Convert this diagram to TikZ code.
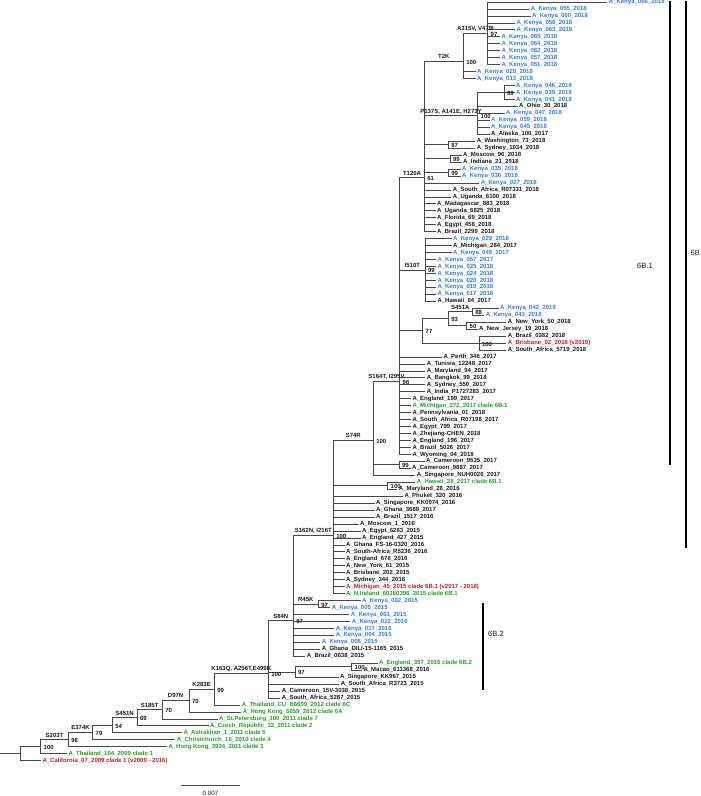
\documentclass[tikz,border=0pt]{standalone}
\usepackage{fontspec}
\setmainfont{Liberation Sans}
\usetikzlibrary{calc}
\definecolor{kenyablue}{RGB}{52,124,222}
\definecolor{cladegreen}{RGB}{38,158,38}
\definecolor{vaccred}{RGB}{185,32,38}
\definecolor{tipblack}{RGB}{25,25,25}

\begin{document}
\begin{tikzpicture}[x=1pt, y=-6.96pt,
    br/.style={draw=black!72, line width=0.75pt},
    tip/.style={font=\fontsize{6}{7}\selectfont\bfseries, anchor=west, inner sep=1.5pt, text height=4.4pt, text depth=1.2pt},
    boot/.style={font=\fontsize{6}{7}\selectfont\bfseries, text=tipblack, anchor=west, inner sep=1pt, xshift=1.8pt, yshift=-0.8pt, text height=4.4pt, text depth=0pt},
    mut/.style={font=\fontsize{6}{7}\selectfont\bfseries, text=tipblack, anchor=south, inner sep=1.2pt, text height=4.4pt, text depth=1.2pt},
    bar/.style={draw=black, line width=1.1pt},
    clade/.style={font=\fontsize{7.6}{9}\selectfont, text=tipblack, inner sep=0pt}]
    \useasboundingbox (0,-0.2874) rectangle (700,114.08);

    % internal nodes (x in px, y in tip rows)
    \coordinate (stub)  at (0,     107.99);
    \coordinate (root)  at (20.5,  107.99);
    \coordinate (b100)  at (40.7,  106.99);
    \coordinate (s203t) at (68.3,  105.98);
    \coordinate (e374k) at (92.7,  104.96);
    \coordinate (b54)   at (112.3, 103.92);
    \coordinate (s451n) at (137,   102.84);
    \coordinate (s185t) at (162.3, 101.68);
    \coordinate (d97n)  at (189,   100.36);
    \coordinate (k283e) at (214.3, 98.72);
    \coordinate (k163q) at (268.3, 96.43);
    \coordinate (s84n)  at (293.3, 88.90);
    \coordinate (r45k)  at (318.3, 86.5);
    \coordinate (b97b)  at (295,   96.25);
    \coordinate (b100c) at (351.7, 95.5);
    \coordinate (s162n) at (333.3, 76.62);
    \coordinate (s74r)  at (373.3, 63);
    \coordinate (b100d) at (387.7, 69.5);
    \coordinate (b99e)  at (399,   66.5);
    \coordinate (s164t) at (399.7, 54.5);
    \coordinate (b77)   at (422.7, 47.25);
    \coordinate (b93)   at (448.3, 45.5);
    \coordinate (s451a) at (472.3, 44.5);
    \coordinate (b50)   at (466.7, 46.5);
    \coordinate (b100f) at (479,   49);
    \coordinate (i510t) at (425,   38.5);
    \coordinate (t120a) at (424.3, 25.26);
    \coordinate (t2k)   at (463.3, 8.5);
    \coordinate (a315v) at (487.7, 4.5);
    \coordinate (p137s) at (477.7, 16.33);
    \coordinate (b99i)  at (504,   13);
    \coordinate (b87)   at (448.3, 20.5);
    \coordinate (b99g)  at (450,   22.5);
    \coordinate (b99h)  at (448.3, 24.5);

    % tips
    \foreach \i/\xe/\col/\lbl in {
        0/607.2/kenyablue/A\_Kenya\_066\_2018,
        1/529.2/kenyablue/A\_Kenya\_055\_2018,
        2/530.5/kenyablue/A\_Kenya\_060\_2018,
        3/514.8/kenyablue/A\_Kenya\_056\_2018,
        4/514.8/kenyablue/A\_Kenya\_063\_2018,
        5/499.8/kenyablue/A\_Kenya\_065\_2018,
        6/499.8/kenyablue/A\_Kenya\_064\_2018,
        7/499.8/kenyablue/A\_Kenya\_062\_2018,
        8/499.8/kenyablue/A\_Kenya\_057\_2018,
        9/499.8/kenyablue/A\_Kenya\_051\_2018,
        10/475.5/kenyablue/A\_Kenya\_028\_2018,
        11/475.5/kenyablue/A\_Kenya\_013\_2018,
        12/514.5/kenyablue/A\_Kenya\_046\_2018,
        13/514.5/kenyablue/A\_Kenya\_039\_2018,
        14/514.5/kenyablue/A\_Kenya\_041\_2018,
        15/517.5/tipblack/A\_Ohio\_30\_2018,
        16/504.5/kenyablue/A\_Kenya\_047\_2018,
        17/489.5/kenyablue/A\_Kenya\_059\_2018,
        18/489.5/kenyablue/A\_Kenya\_045\_2018,
        19/489.5/tipblack/A\_Alaska\_100\_2017,
        20/475.2/tipblack/A\_Washington\_73\_2018,
        21/475.2/tipblack/A\_Sydney\_1034\_2018,
        22/461.5/tipblack/A\_Moscow\_96\_2018,
        23/461.5/tipblack/A\_Indiana\_21\_2018,
        24/460.5/kenyablue/A\_Kenya\_035\_2018,
        25/460.5/kenyablue/A\_Kenya\_036\_2018,
        26/479.2/kenyablue/A\_Kenya\_027\_2018,
        27/451.2/tipblack/A\_South\_Africa\_R07331\_2018,
        28/451.2/tipblack/A\_Uganda\_6100\_2018,
        29/435.5/tipblack/A\_Madagascar\_883\_2018,
        30/435.5/tipblack/A\_Uganda\_6825\_2018,
        31/435.5/tipblack/A\_Florida\_69\_2018,
        32/435.5/tipblack/A\_Egypt\_458\_2018,
        33/435.5/tipblack/A\_Brazil\_2299\_2018,
        34/451.5/kenyablue/A\_Kenya\_029\_2018,
        35/451.5/tipblack/A\_Michigan\_284\_2017,
        36/451.5/kenyablue/A\_Kenya\_049\_2017,
        37/435.8/kenyablue/A\_Kenya\_057\_2017,
        38/435.8/kenyablue/A\_Kenya\_025\_2018,
        39/435.8/kenyablue/A\_Kenya\_024\_2018,
        40/435.8/kenyablue/A\_Kenya\_020\_2018,
        41/435.8/kenyablue/A\_Kenya\_019\_2018,
        42/435.8/kenyablue/A\_Kenya\_017\_2018,
        43/435.8/tipblack/A\_Hawaii\_64\_2017,
        44/498.5/kenyablue/A\_Kenya\_042\_2018,
        45/484.2/kenyablue/A\_Kenya\_043\_2018,
        46/506.2/tipblack/A\_New\_York\_50\_2018,
        47/477.5/tipblack/A\_New\_Jersey\_19\_2018,
        48/506.2/tipblack/A\_Brazil\_0382\_2018,
        49/506.2/vaccred/A\_Brisbane\_02\_2018 (v2019),
        50/506.2/tipblack/A\_South\_Africa\_5719\_2018,
        51/441.8/tipblack/A\_Perth\_346\_2017,
        52/425.2/tipblack/A\_Tunisia\_12248\_2017,
        53/425.2/tipblack/A\_Maryland\_94\_2017,
        54/425.2/tipblack/A\_Bangkok\_99\_2018,
        55/425.2/tipblack/A\_Sydney\_550\_2017,
        56/425.2/tipblack/A\_India\_P1727283\_2017,
        57/410.8/tipblack/A\_England\_199\_2017,
        58/410.8/cladegreen/A\_Michigan\_272\_2017 clade 6B.1,
        59/410.8/tipblack/A\_Pennsylvania\_01\_2018,
        60/410.8/tipblack/A\_South\_Africa\_R07198\_2017,
        61/410.8/tipblack/A\_Egypt\_799\_2017,
        62/410.8/tipblack/A\_Zhejiang-CHEN\_2018,
        63/410.8/tipblack/A\_England\_196\_2017,
        64/410.8/tipblack/A\_Brazil\_5026\_2017,
        65/410.8/tipblack/A\_Wyoming\_04\_2018,
        66/424.5/tipblack/A\_Cameroon\_9535\_2017,
        67/410.5/tipblack/A\_Cameroon\_9887\_2017,
        68/415.2/tipblack/A\_Singapore\_NUH0026\_2017,
        69/415.2/cladegreen/A\_Hawaii\_28\_2017 clade 6B.1,
        70/397.2/tipblack/A\_Maryland\_28\_2016,
        71/402.8/tipblack/A\_Phuket\_320\_2016,
        72/374.5/tipblack/A\_Singapore\_KK0974\_2016,
        73/374.5/tipblack/A\_Ghana\_3688\_2017,
        74/374.5/tipblack/A\_Brazil\_1517\_2016,
        75/358.5/tipblack/A\_Moscow\_1\_2016,
        76/360.5/tipblack/A\_Egypt\_6283\_2015,
        77/360.5/tipblack/A\_England\_427\_2015,
        78/344.5/tipblack/A\_Ghana\_FS-16-0320\_2016,
        79/344.5/tipblack/A\_South-Africa\_R5236\_2016,
        80/344.5/tipblack/A\_England\_676\_2016,
        81/344.5/tipblack/A\_New\_York\_61\_2015,
        82/344.5/tipblack/A\_Brisbane\_202\_2015,
        83/344.5/tipblack/A\_Sydney\_344\_2016,
        84/344.5/vaccred/A\_Michigan\_45\_2015 clade 6B.1 (v2017 - 2018),
        85/344.5/cladegreen/A\_N.Ireland\_60160398\_2015 clade 6B.1,
        86/360.5/kenyablue/A\_Kenya\_002\_2015,
        87/330.2/kenyablue/A\_Kenya\_005\_2015,
        88/349.2/kenyablue/A\_Kenya\_001\_2015,
        89/350.2/kenyablue/A\_Kenya\_022\_2016,
        90/334.2/kenyablue/A\_Kenya\_017\_2016,
        91/334.2/kenyablue/A\_Kenya\_004\_2015,
        92/320.2/kenyablue/A\_Kenya\_006\_2015,
        93/320.2/tipblack/A\_Ghana\_DILI-15-1165\_2015,
        94/305.2/tipblack/A\_Brazil\_0638\_2015,
        95/377.5/cladegreen/A\_England\_357\_2015 clade 6B.2,
        96/361.8/tipblack/A\_Macao\_611368\_2016,
        97/338.5/tipblack/A\_Singapore\_KK967\_2015,
        98/339.2/tipblack/A\_South\_Africa\_R3723\_2015,
        99/280.2/tipblack/A\_Cameroon\_15V-3038\_2015,
        100/280.2/tipblack/A\_South\_Africa\_5287\_2015,
        101/240.2/cladegreen/A\_Thailand\_CU\_B6609\_2012 clade 6C,
        102/241.2/cladegreen/A\_Hong Kong\_5659\_2012 clade 6A,
        103/217.5/cladegreen/A\_St.Petersburg\_100\_2011 clade 7,
        104/208.5/cladegreen/A\_Czech\_Republic\_32\_2011 clade 2,
        105/181.8/cladegreen/A\_Astrakhan\_1\_2011 clade 5,
        106/175.2/cladegreen/A\_Christchurch\_16\_2010 clade 4,
        107/166.8/cladegreen/A\_Hong Kong\_3934\_2011 clade 3,
        108/66.8/cladegreen/A\_Thailand\_104\_2009 clade 1,
        109/40.8/vaccred/A\_California\_07\_2009 clade 1 (v2009 - 2016)}
        \node[tip, text=\col] (l\i) at (\xe,\i) {\lbl};

    % branches
    \draw[br] (stub) -- (root);
    \draw[br] (root) |- (b100) (root) |- (l109);
    \draw[br] (b100) |- (s203t) (b100) |- (l108);
    \draw[br] (s203t) |- (e374k) (s203t) |- (l107);
    \draw[br] (e374k) |- (b54) (e374k) |- (l106);
    \draw[br] (b54) |- (s451n) (b54) |- (l105);
    \draw[br] (s451n) |- (s185t) (s451n) |- (l104);
    \draw[br] (s185t) |- (d97n) (s185t) |- (l103);
    \draw[br] (d97n) |- (k283e) (d97n) |- (l102);
    \draw[br] (k283e) |- (k163q) (k283e) |- (l101);
    \draw[br] (k163q) |- (s84n) (k163q) |- (b97b);
    \foreach \i in {98,99,100} \draw[br] (k163q) |- (l\i);
    \draw[br] (b97b) |- (b100c) (b97b) |- (l97);
    \draw[br] (b100c) |- (l95) (b100c) |- (l96);
    \draw[br] (s84n) |- (s162n) (s84n) |- (r45k);
    \foreach \i in {88,...,94} \draw[br] (s84n) |- (l\i);
    \draw[br] (r45k) |- (l86) (r45k) |- (l87);
    \draw[br] (s162n) |- (s74r) (s162n) |- (b100d);
    \foreach \i in {71,...,85} \draw[br] (s162n) |- (l\i);
    \draw[br] (b100d) |- (l69) (b100d) |- (l70);
    \draw[br] (s74r) |- (s164t) (s74r) |- (b99e) (s74r) |- (l68);
    \draw[br] (b99e) |- (l66) (b99e) |- (l67);
    \draw[br] (s164t) |- (t120a) (s164t) |- (i510t) (s164t) |- (b77);
    \foreach \i in {51,...,65} \draw[br] (s164t) |- (l\i);
    \draw[br] (b77) |- (b93) (b77) |- (b100f);
    \draw[br] (b93) |- (s451a) (b93) |- (b50);
    \draw[br] (s451a) |- (l44) (s451a) |- (l45);
    \draw[br] (b50) |- (l46) (b50) |- (l47);
    \foreach \i in {48,49,50} \draw[br] (b100f) |- (l\i);
    \foreach \i in {34,...,43} \draw[br] (i510t) |- (l\i);
    \draw[br] (t120a) |- (t2k) (t120a) |- (p137s) (t120a) |- (b87) (t120a) |- (b99g) (t120a) |- (b99h);
    \foreach \i in {26,...,33} \draw[br] (t120a) |- (l\i);
    \draw[br] (t2k) |- (a315v) (t2k) |- (l10) (t2k) |- (l11);
    \foreach \i in {0,...,9} \draw[br] (a315v) |- (l\i);
    \draw[br] (p137s) |- (b99i);
    \foreach \i in {15,...,19} \draw[br] (p137s) |- (l\i);
    \foreach \i in {12,13,14} \draw[br] (b99i) |- (l\i);
    \draw[br] (b87) |- (l20) (b87) |- (l21);
    \draw[br] (b99g) |- (l22) (b99g) |- (l23);
    \draw[br] (b99h) |- (l24) (b99h) |- (l25);

    % substitutions on branches
    \foreach \n/\p/\t in {s203t/b100/S203T, e374k/s203t/E374K, s451n/b54/S451N,
        s185t/s451n/S185T, d97n/s185t/D97N, k283e/d97n/K283E,
        k163q/k283e/{K163Q, A256T,E499K}, s84n/k163q/S84N, r45k/s84n/R45K,
        s162n/s84n/{S162N, I216T}, s74r/s162n/S74R, s164t/s74r/{S164T, I295V},
        i510t/s164t/I510T, s451a/b93/S451A, t120a/s164t/T120A, t2k/t120a/T2K,
        a315v/t2k/{A315V, V479I}, p137s/t120a/{P137S, A141E, H273Y}}
        \node[mut] (m-\n) at ($(\p |- \n)!0.5!(\n)$) {\t};

    % bootstrap values
    \foreach \n/\v in {b100/100, s203t/98, e374k/79, b54/54, s451n/69, s185t/70,
        d97n/70, k283e/99, k163q/100, s84n/97, r45k/97, b97b/97, b100c/100,
        s162n/100, s74r/100, b100d/100, b99e/99, s164t/96, b77/77, b93/93,
        s451a/88, b50/50, b100f/100, i510t/99, t120a/61, t2k/100, a315v/97,
        p137s/100, b99i/99, b87/87, b99g/99, b99h/99}
        \node[boot] (bs-\n) at (\n) {\v};

    % clade bars
    \coordinate (c61top) at (670, -0.2);
    \coordinate (c61bot) at (670, 66.5);
    \coordinate (c6top)  at (686, -0.2);
    \coordinate (c6bot)  at (686, 78.4);
    \coordinate (c62top) at (483, 86.35);
    \coordinate (c62bot) at (483, 98.85);
    \draw[bar] (c61top) -- (c61bot);
    \draw[bar] (c6top) -- (c6bot);
    \draw[bar] (c62top) -- (c62bot);
    \node[clade] (lab61) at (645, 37.89) {6B.1};
    \node[clade, anchor=west] (lab6) at (690.5, 36.06) {6B};
    \node[clade, anchor=west] (lab62) at (488, 90.8) {6B.2};

    % scale
    \coordinate (sc1) at (181, 112.6);
    \coordinate (sc2) at (240, 112.6);
    \draw[black!72, line width=0.75pt] (sc1) -- (sc2);
    \node[font=\fontsize{6.2}{7}\selectfont, text=tipblack, inner sep=0pt] (sclab) at (210.5, 113.65) {0.007};
\end{tikzpicture}
\end{document}
